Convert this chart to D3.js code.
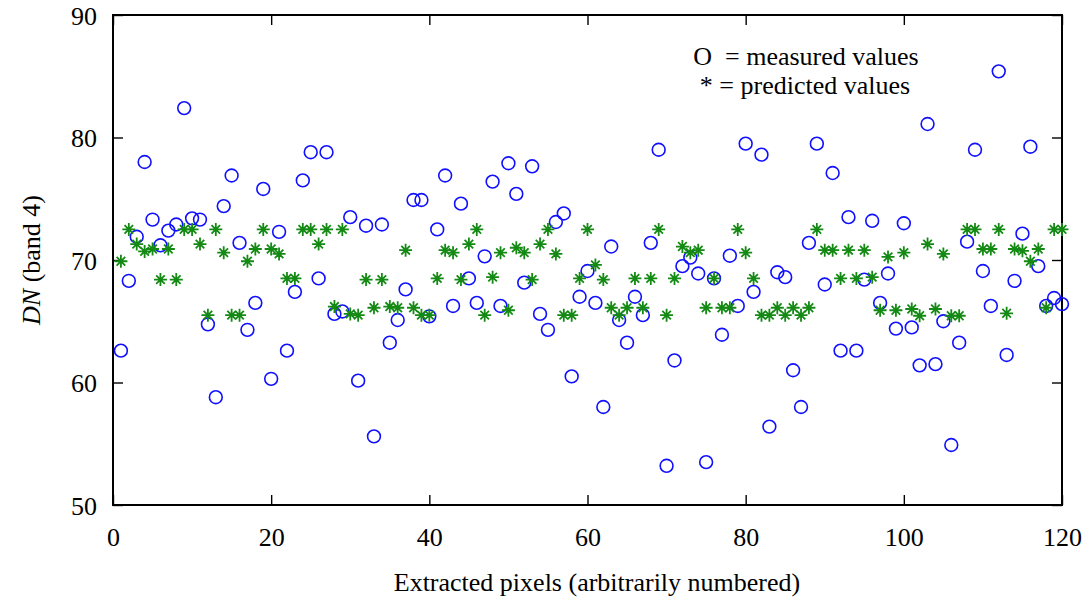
<!DOCTYPE html>
<html>
<head>
<meta charset="utf-8">
<script src="https://cdn.jsdelivr.net/npm/d3@7/dist/d3.min.js"></script>
<style>
  html, body { margin: 0; padding: 0; background: #fff; }
  svg { display: block; }
  text { font-family: "Liberation Serif", "Times New Roman", serif; fill: #000; }
</style>
</head>
<body>
<svg id="chart" width="1088" height="602"></svg>
<script>
// Pixel index (1..120) along the sampled transect
const pixelIds = d3.range(1, 121);

// Measured DN values (band 4)
const measured = [
  62.6, 68.3, 71.9, 78.0, 73.3, 71.2, 72.4, 72.9, 82.4, 73.4,
  73.3, 64.75, 58.8, 74.4, 76.9, 71.4, 64.3, 66.5, 75.8, 60.3,
  72.3, 62.6, 67.4, 76.5, 78.8, 68.5, 78.8, 65.6, 65.8, 73.5,
  60.15, 72.8, 55.6, 72.9, 63.25, 65.1, 67.6, 74.9, 74.9, 65.4,
  72.5, 76.9, 66.25, 74.6, 68.5, 66.5, 70.3, 76.4, 66.25, 77.9,
  75.4, 68.15, 77.65, 65.6, 64.3, 73.1, 73.8, 60.5, 67.0, 69.1,
  66.5, 58.0, 71.1, 65.1, 63.25, 67.0, 65.5, 71.4, 79.0, 53.2,
  61.8, 69.5, 70.2, 68.9, 53.5, 68.5, 63.9, 70.35, 66.25, 79.5,
  67.4, 78.6, 56.4, 69.0, 68.6, 61.0, 58.0, 71.4, 79.5, 68.0,
  77.1, 62.6, 73.5, 62.6, 68.4, 73.2, 66.5, 68.9, 64.4, 73.0,
  64.5, 61.4, 81.1, 61.5, 65.0, 54.9, 63.25, 71.5, 79.0, 69.1,
  66.25, 85.4, 62.25, 68.3, 72.15, 79.25, 69.5, 66.25, 66.9, 66.4
];

// Predicted DN values (band 4)
const predicted = [
  69.9, 72.5, 71.3, 70.7, 70.9, 68.4, 70.9, 68.4, 72.5, 72.5,
  71.3, 65.5, 72.5, 70.6, 65.5, 65.5, 69.9, 70.9, 72.5, 70.9,
  70.5, 68.5, 68.5, 72.5, 72.5, 71.3, 72.5, 66.2, 72.5, 65.6,
  65.5, 68.4, 66.1, 68.4, 66.2, 66.1, 70.8, 66.1, 65.5, 65.5,
  68.5, 70.8, 70.6, 68.4, 71.3, 72.5, 65.5, 68.6, 70.6, 65.9,
  71.0, 70.6, 68.4, 71.3, 72.5, 70.5, 65.5, 65.5, 68.5, 72.5,
  69.6, 68.4, 66.1, 65.5, 66.1, 68.5, 66.1, 68.5, 72.5, 65.5,
  68.5, 71.1, 70.6, 70.8, 66.1, 68.5, 66.1, 66.1, 72.5, 70.6,
  68.5, 65.5, 65.5, 66.1, 65.5, 66.1, 65.5, 66.1, 72.5, 70.8,
  70.8, 68.5, 70.8, 68.5, 70.8, 68.6, 65.9, 70.25, 65.9, 70.6,
  66.0, 65.45, 71.3, 66.0, 70.5, 65.45, 65.45, 72.5, 72.5, 70.9,
  70.9, 72.5, 65.65, 70.9, 70.75, 69.9, 70.9, 66.1, 72.5, 72.5
];

const xTicks = [0, 20, 40, 60, 80, 100, 120];
const yTicks = [50, 60, 70, 80, 90];
const legendLines = ["O  = measured values", "* = predicted values"];
const xTitle = "Extracted pixels (arbitrarily numbered)";

const svg = d3.select("#chart");
const plot = { left: 113, right: 1062, top: 15, bottom: 505 };

const x = d3.scaleLinear().domain([0, 120]).range([plot.left, plot.right]);
const y = d3.scaleLinear().domain([50, 90]).range([plot.bottom, plot.top]);

const tickLen = 10;
const fontSize = 26;

// Axes: ticks point inward on all four sides
const axisBottom = d3.axisBottom(x).tickValues(xTicks).tickSizeInner(-tickLen).tickSizeOuter(0).tickPadding(23);
const axisTop = d3.axisTop(x).tickValues(xTicks).tickSizeInner(-tickLen).tickSizeOuter(0).tickFormat("");
const axisLeft = d3.axisLeft(y).tickValues(yTicks).tickSizeInner(-tickLen).tickSizeOuter(0).tickPadding(16);
const axisRight = d3.axisRight(y).tickValues(yTicks).tickSizeInner(-tickLen).tickSizeOuter(0).tickFormat("");

function styleAxis(g) {
  g.select(".domain").remove();
  g.selectAll(".tick line").attr("stroke", "#000").attr("stroke-width", 1.4);
  g.selectAll(".tick text")
    .attr("font-family", "Liberation Serif, Times New Roman, serif")
    .attr("font-size", fontSize).attr("fill", "#000");
}

svg.append("g").attr("transform", `translate(0,${plot.bottom})`).call(axisBottom).call(styleAxis);
svg.append("g").attr("transform", `translate(0,${plot.top})`).call(axisTop).call(styleAxis);
svg.append("g").attr("transform", `translate(${plot.left},0)`).call(axisLeft).call(styleAxis)
  .selectAll(".tick text").attr("dy", "0.36em");
svg.append("g").attr("transform", `translate(${plot.right},0)`).call(axisRight).call(styleAxis);

// Frame
svg.append("rect")
  .attr("x", plot.left).attr("y", plot.top)
  .attr("width", plot.right - plot.left).attr("height", plot.bottom - plot.top)
  .attr("fill", "none").attr("stroke", "#000").attr("stroke-width", 2);

// Measured values: open blue circles
svg.append("g").selectAll("circle")
  .data(pixelIds)
  .join("circle")
  .attr("cx", (d, i) => x(d))
  .attr("cy", (d, i) => y(measured[i]))
  .attr("r", 6.4)
  .attr("fill", "none")
  .attr("stroke", "#1010ff")
  .attr("stroke-width", 1.6);

// Predicted values: green asterisks (plus with shorter diagonals)
const arm = 6.5, diag = 4.3;
const starPath = `M${-arm},0H${arm}M0,${-arm}V${arm}M${-diag},${-diag}L${diag},${diag}M${-diag},${diag}L${diag},${-diag}`;
svg.append("g").selectAll("path")
  .data(pixelIds)
  .join("path")
  .attr("transform", (d, i) => `translate(${x(d)},${y(predicted[i])})`)
  .attr("d", starPath)
  .attr("fill", "none")
  .attr("stroke", "#148a14")
  .attr("stroke-width", 1.8);

// Legend text
const legend = svg.append("g").attr("font-size", fontSize);
legend.append("text").attr("x", 806).attr("y", 65).attr("text-anchor", "middle").attr("xml:space", "preserve").text(legendLines[0]);
legend.append("text").attr("x", 805).attr("y", 94).attr("text-anchor", "middle").text(legendLines[1]);

// Axis titles
svg.append("text")
  .attr("x", 597)
  .attr("y", 591)
  .attr("text-anchor", "middle")
  .attr("font-size", fontSize)
  .text(xTitle);

const yTitle = svg.append("text")
  .attr("transform", `translate(40,${(plot.top + plot.bottom) / 2}) rotate(-90)`)
  .attr("text-anchor", "middle")
  .attr("font-size", fontSize);
yTitle.append("tspan").attr("font-style", "italic").text("DN");
yTitle.append("tspan").text(" (band 4)");
</script>
</body>
</html>
